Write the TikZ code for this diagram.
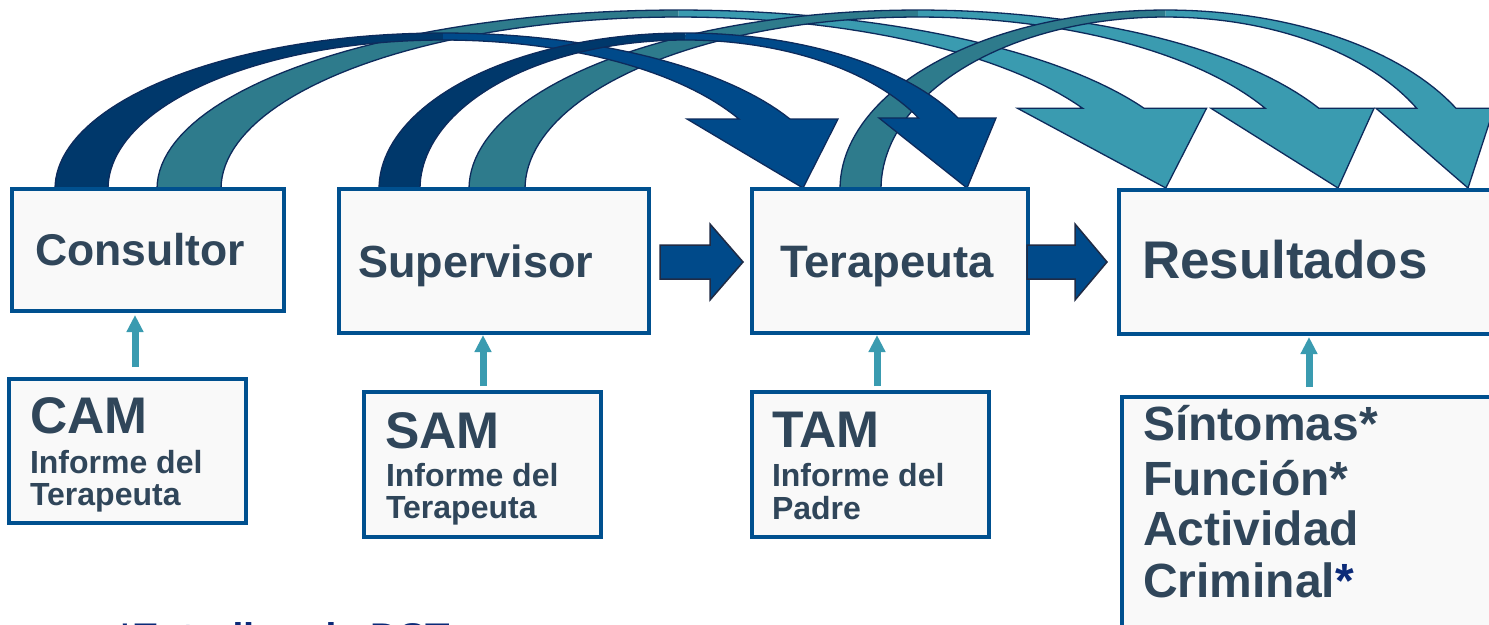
\documentclass[tikz,border=0pt]{standalone}
\usepackage{fontspec}
\setmainfont{Liberation Sans}
\usetikzlibrary{calc,arrows.meta}
\definecolor{boxline}{HTML}{00508F}
\definecolor{boxfill}{HTML}{F9F9F9}
\definecolor{txt}{HTML}{30465A}
\definecolor{navyB}{HTML}{00386B}
\definecolor{navyF}{HTML}{004A8A}
\definecolor{tealB}{HTML}{2E7B8C}
\definecolor{tealF}{HTML}{3A9BB0}
\definecolor{edgecol}{HTML}{0D2B5C}
\definecolor{upcol}{HTML}{3A9BB0}
\definecolor{starcol}{HTML}{0B2A78}
\definecolor{blockedge}{HTML}{1F2B45}
\newcommand\bfs[1]{\fontsize{#1}{#1}\selectfont\bfseries}
% #1 cx, #2 rx, #3 ry, #4 shaft width, #5 head base y, #6 left corner x, #7 right corner x, #8 tip x, #9 colour prefix
\newcommand\carrow[9]{%
 \pgfmathsetmacro\rxi{#2-#4}%
 \pgfmathsetmacro\ryi{#3-7}%
 \pgfmathsetmacro\ao{360-asin((189-#5)/#3)}%
 \pgfmathsetmacro\ai{360-asin((189-#5)/\ryi)}%
 \fill[#9B] plot[domain=180:270,samples=40] ({#1+#2*cos(\x)},{189+#3*sin(\x)})
   -- plot[domain=270:180,samples=40] ({#1+\rxi*cos(\x)},{189+\ryi*sin(\x)}) -- cycle;
 \fill[#9F] plot[domain=270:\ao,samples=40] ({#1+#2*cos(\x)},{189+#3*sin(\x)})
   -- (#7,#5) -- (#8,188) -- (#6,#5)
   -- plot[domain=\ai:270,samples=40] ({#1+\rxi*cos(\x)},{189+\ryi*sin(\x)}) -- cycle;
 \draw[edgecol,line width=1.3pt,line join=miter] plot[domain=180:\ao,samples=80] ({#1+#2*cos(\x)},{189+#3*sin(\x)})
   -- (#7,#5) -- (#8,188) -- (#6,#5)
   -- plot[domain=\ai:180,samples=80] ({#1+\rxi*cos(\x)},{189+\ryi*sin(\x)});
}
\begin{document}
\begin{tikzpicture}[x=1pt,y=-1pt,
  box/.style={draw=boxline, fill=boxfill, line width=3.5pt, rectangle, inner sep=0pt, outer sep=0pt, anchor=north west},
  lbl/.style={text=txt, inner sep=0pt, outer sep=0pt, anchor=base west},
  uparr/.style={draw=upcol, line width=7pt, -{Triangle[length=17pt,width=16pt]}},
  blockarr/.style={fill=navyF, draw=blockedge, line width=1.5pt, line join=miter}]
\useasboundingbox[fill=white] (0,0) rectangle (1489,624);

% curved arrows
\carrow{678.6}{521.6}{179}{64}{108.3}{1017.5}{1206.5}{1165.8}{teal}
\carrow{918.1}{449.1}{179}{56}{108.3}{1211}{1374}{1338}{teal}
\carrow{1165.5}{325.5}{179}{41}{108.3}{1376}{1494}{1468}{teal}
\carrow{443.1}{388.1}{156}{53}{119}{687}{838}{803}{navy}
\carrow{685.3}{306.3}{156}{41}{118}{879}{996}{967}{navy}

% boxes
\node[box, minimum width=272, minimum height=122] (consultor) at (12,189) {};
\node[box, minimum width=310, minimum height=144] (supervisor) at (339,189) {};
\node[box, minimum width=276, minimum height=144] (terapeuta) at (752,189) {};
\node[box, minimum width=390, minimum height=144] (resultados) at (1119,190) {};
\node[box, minimum width=237, minimum height=144] (cam) at (9,379) {};
\node[box, minimum width=237, minimum height=145] (sam) at (364,392) {};
\node[box, minimum width=237, minimum height=145] (tam) at (752,392) {};
\node[box, minimum width=390, minimum height=250] (sint) at (1122,397) {};

% labels
\node[lbl, font=\bfs{44.5}] (tcons) at (35,265) {Consultor};
\node[lbl, font=\bfs{45}] (tsup) at (358,277) {Supervisor};
\node[lbl, font=\bfs{45.5}] (tter) at (780,277) {Terapeuta};
\node[lbl, font=\bfs{53}] (tres) at (1142,278) {Resultados};

\node[lbl, font=\bfs{51.5}] (tcam) at (30,433) {CAM};
\node[lbl, font=\bfs{32}] (tcam1) at (30,473) {Informe del};
\node[lbl, font=\bfs{32}] (tcam2) at (30,505) {Terapeuta};

\node[lbl, font=\bfs{51.5}] (tsam) at (385,448) {SAM};
\node[lbl, font=\bfs{32}] (tsam1) at (386,486) {Informe del};
\node[lbl, font=\bfs{32}] (tsam2) at (386,518) {Terapeuta};

\node[lbl, font=\bfs{51.5}] (ttam) at (772,447) {TAM};
\node[lbl, font=\bfs{32}] (ttam1) at (772,486) {Informe del};
\node[lbl, font=\bfs{32}] (ttam2) at (772,519) {Padre};

\node[lbl, font=\bfs{48}] (ts1) at (1143,440) {Síntomas*};
\node[lbl, font=\bfs{48}] (ts2) at (1143,495) {Función*};
\node[lbl, font=\bfs{48}] (ts3) at (1143,545) {Actividad};
\node[lbl, font=\bfs{48}] (ts4) at (1143,597) {Criminal\textcolor{starcol}{*}};

\node[lbl, text=starcol, font=\bfs{40}] (note) at (117,651) {*Estudios de DST};

% small upward arrows
\coordinate (xa) at (135,0);
\coordinate (xb) at (483,0);
\coordinate (xc) at (877,0);
\coordinate (xd) at (1309,0);
\draw[uparr, shorten <=12pt, shorten >=4pt] (cam.north -| xa) -- (consultor.south -| xa);
\draw[uparr, shorten <=6pt, shorten >=2pt] (sam.north -| xb) -- (supervisor.south -| xb);
\draw[uparr, shorten <=6pt, shorten >=2pt] (tam.north -| xc) -- (terapeuta.south -| xc);
\draw[uparr, shorten <=10pt, shorten >=3pt] (sint.north -| xd) -- (resultados.south -| xd);

% block arrows
\path[blockarr] ($(supervisor.east)+(11,-16)$) -- ++(50,0) -- ++(0,-21) -- ++(33,38)
  -- ++(-33,38) -- ++(0,-21) -- ++(-50,0) -- cycle;
\path[blockarr] ($(terapeuta.east)+(-1,-16)$) -- ++(48,0) -- ++(0,-21) -- ++(32,38)
  -- ++(-32,38) -- ++(0,-21) -- ++(-48,0) -- cycle;
\end{tikzpicture}
\end{document}
